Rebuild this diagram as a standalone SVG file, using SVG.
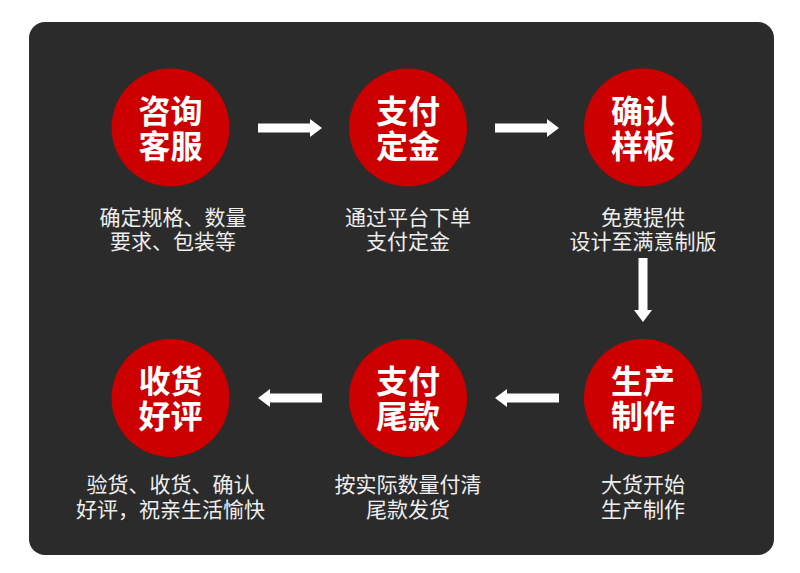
<svg xmlns="http://www.w3.org/2000/svg" width="800" height="573" viewBox="0 0 800 573">
<style>
.c{fill:#cc0000}
.t{font-family:"Noto Sans CJK SC","Noto Sans",sans-serif;font-weight:bold;font-size:32px;fill:#ffffff;text-anchor:middle}
.d{font-family:"Noto Sans CJK SC","Noto Sans",sans-serif;font-size:21px;fill:#eeeeee;text-anchor:middle}
.a{fill:#ffffff}
</style>
<defs>
<path id="arr" d="M0,-4.5 H52 V-9 L64,0 L52,9 V4.5 H0 Z"/>
</defs>
<rect x="0" y="0" width="800" height="573" fill="#ffffff"/>
<rect x="29" y="22" width="745" height="533" rx="16" fill="#2b2b2b"/>
<g id="n1"><circle class="c" cx="170.5" cy="127.5" r="59"/><text class="t" x="170.5" y="123">咨询</text><text class="t" x="170.5" y="158">客服</text><text class="d" x="173" y="225">确定规格、数量</text><text class="d" x="173" y="249">要求、包装等</text></g>
<g id="n2"><circle class="c" cx="408" cy="127.5" r="59"/><text class="t" x="408" y="123">支付</text><text class="t" x="408" y="158">定金</text><text class="d" x="408" y="225">通过平台下单</text><text class="d" x="408" y="249">支付定金</text></g>
<g id="n3"><circle class="c" cx="643" cy="127.5" r="59"/><text class="t" x="643" y="123">确认</text><text class="t" x="643" y="158">样板</text><text class="d" x="643" y="225">免费提供</text><text class="d" x="643" y="249">设计至满意制版</text></g>
<g id="n4"><circle class="c" cx="643" cy="398" r="59"/><text class="t" x="643" y="393">生产</text><text class="t" x="643" y="428">制作</text><text class="d" x="643" y="492">大货开始</text><text class="d" x="643" y="517">生产制作</text></g>
<g id="n5"><circle class="c" cx="408" cy="398" r="59"/><text class="t" x="408" y="393">支付</text><text class="t" x="408" y="428">尾款</text><text class="d" x="408" y="492">按实际数量付清</text><text class="d" x="408" y="517">尾款发货</text></g>
<g id="n6"><circle class="c" cx="170.5" cy="398" r="59"/><text class="t" x="170.5" y="393">收货</text><text class="t" x="170.5" y="428">好评</text><text class="d" x="170.5" y="492">验货、收货、确认</text><text class="d" x="170.5" y="517">好评，祝亲生活愉快</text></g>
<g id="connectors">
<use href="#arr" class="a" transform="translate(258,128)"/>
<use href="#arr" class="a" transform="translate(495,128)"/>
<use href="#arr" class="a" transform="translate(643,258) rotate(90)"/>
<use href="#arr" class="a" transform="translate(559,398) rotate(180)"/>
<use href="#arr" class="a" transform="translate(322,398) rotate(180)"/>
</g>
</svg>
